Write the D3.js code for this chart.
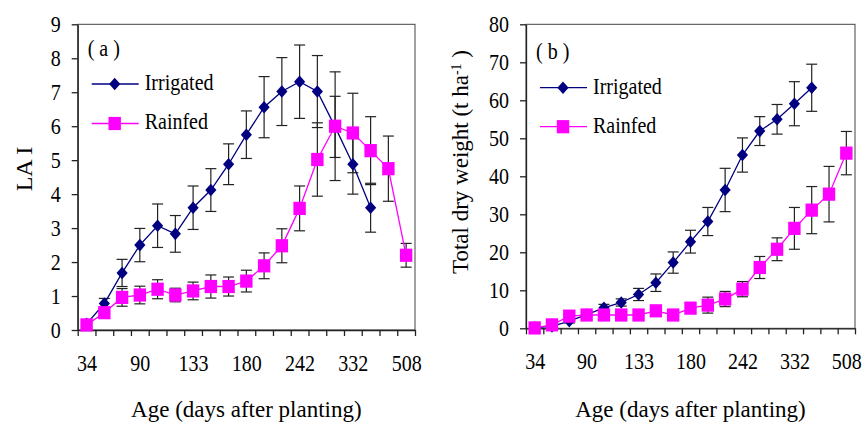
<!DOCTYPE html>
<html>
<head>
<meta charset="utf-8">
<script src="https://cdn.jsdelivr.net/npm/d3@7"></script>
<style>
  body { margin: 0; background: #fff; }
  svg text { font-family: "Liberation Serif", "Times New Roman", serif; fill: #000; }
  /* the source figure was stretched a bit vertically */
  .tall { transform-box: fill-box; transform-origin: center; transform: scaleY(1.15); }
</style>
</head>
<body>
<div id="chart"></div>
<script>
var svgWidth = 864;
var svgHeight = 423;

// 19 sampling dates (days after planting), only every third one is labelled
var ageLabels = ["34", "", "", "90", "", "", "133", "", "", "180", "", "", "242", "", "", "332", "", "", "508"];

var seriesNames = ["Irrigated", "Rainfed"];
var seriesColors = ["#000080", "#FF00FF"];

// (a) leaf area index
var laiIrrigated = [0.18, 0.78, 1.68, 2.5, 3.07, 2.83, 3.6, 4.12, 4.88, 5.75, 6.56, 7.02, 7.31, 7.02, 5.98, 4.88, 3.6, null, null];
var laiIrrigatedErr = [0.1, 0.15, 0.4, 0.49, 0.64, 0.54, 0.64, 0.63, 0.6, 0.7, 0.9, 1.0, 1.08, 1.06, 0.9, 0.88, 0.72, null, null];
var laiRainfed = [0.15, 0.51, 0.96, 1.03, 1.2, 1.03, 1.15, 1.28, 1.28, 1.44, 1.89, 2.48, 3.58, 5.02, 6.0, 5.8, 5.28, 4.75, 2.2];
var laiRainfedErr = [0.08, 0.1, 0.26, 0.26, 0.28, 0.2, 0.26, 0.34, 0.28, 0.32, 0.38, 0.5, 0.66, 1.08, 1.6, 1.17, 1.0, 0.96, 0.35];

// (b) total dry weight, t/ha
var dwIrrigated = [0.2, 0.5, 1.9, 3.6, 5.4, 6.8, 8.9, 12.0, 17.3, 22.8, 28.1, 36.4, 45.6, 51.9, 55.0, 59.1, 63.3, null, null];
var dwIrrigatedErr = [0.2, 0.3, 0.5, 0.7, 0.9, 0.95, 1.6, 2.3, 2.8, 3.0, 3.7, 5.7, 4.5, 3.8, 3.9, 5.8, 6.2, null, null];
var dwRainfed = [0.1, 0.9, 3.2, 3.5, 3.5, 3.5, 3.5, 4.6, 3.5, 5.3, 6.1, 7.7, 10.3, 16.0, 20.8, 26.3, 31.1, 35.3, 46.1];
var dwRainfedErr = [0.2, 0.4, 0.6, 0.6, 0.5, 0.5, 0.5, 0.8, 0.6, 1.2, 2.1, 2.0, 2.0, 2.9, 3.0, 5.5, 6.2, 7.3, 5.7];

var svg = d3.select("#chart")
  .append("svg")
  .attr("width", svgWidth)
  .attr("height", svgHeight);

svg.append("rect").attr("width", svgWidth).attr("height", svgHeight).attr("fill", "#fff");

function drawPanel(p) {
  var g = svg.append("g");

  var x = d3.scaleLinear().domain([0, ageLabels.length]).range([p.left, p.right]);
  var y = d3.scaleLinear().domain([0, p.yMax]).range([p.bottom, p.top]);

  // plot area frame
  g.append("rect")
    .attr("x", p.left)
    .attr("y", p.top)
    .attr("width", p.right - p.left)
    .attr("height", p.bottom - p.top)
    .attr("fill", "none")
    .attr("stroke", "#444")
    .attr("stroke-width", 1);

  // y axis
  var yAxis = g.append("g")
    .attr("transform", `translate(${p.left},0)`)
    .call(d3.axisLeft(y)
      .tickValues(d3.range(0, p.yMax + p.yStep / 2, p.yStep))
      .tickSize(6)
      .tickSizeOuter(0)
      .tickPadding(11));

  // x axis: tick marks between categories
  var xAxis = g.append("g")
    .attr("transform", `translate(0,${p.bottom})`)
    .call(d3.axisBottom(x)
      .tickValues(d3.range(ageLabels.length + 1))
      .tickFormat("")
      .tickSize(6)
      .tickSizeOuter(0));

  // x labels centred on every third category
  var labelIdx = d3.range(ageLabels.length).filter(i => ageLabels[i] !== "");
  var xLabels = g.append("g")
    .attr("transform", `translate(0,${p.bottom})`)
    .call(d3.axisBottom(x)
      .tickValues(labelIdx.map(i => i + 0.5))
      .tickFormat(d => ageLabels[d - 0.5])
      .tickSize(0)
      .tickPadding(26));
  xLabels.select(".domain").remove();

  [yAxis, xAxis, xLabels].forEach(a => {
    a.selectAll("path, line").attr("stroke", "#222").attr("stroke-width", 1.3);
    a.selectAll("text").attr("font-size", 20).classed("tall", true);
  });

  var line = d3.line()
    .defined(d => d != null)
    .x((d, i) => x(i + 0.5))
    .y(d => y(d));

  // error bars go underneath the markers
  p.series.forEach((s, k) => {
    var pts = s.values.map((v, i) => ({ i: i, v: v, e: s.err[i] })).filter(d => d.v != null);
    var eb = g.append("g").attr("stroke", "#222").attr("stroke-width", 1.2);
    pts.forEach(d => {
      var cx = x(d.i + 0.5);
      eb.append("line").attr("x1", cx).attr("x2", cx).attr("y1", y(d.v - d.e)).attr("y2", y(d.v + d.e));
      eb.append("line").attr("x1", cx - 5.5).attr("x2", cx + 5.5).attr("y1", y(d.v - d.e)).attr("y2", y(d.v - d.e));
      eb.append("line").attr("x1", cx - 5.5).attr("x2", cx + 5.5).attr("y1", y(d.v + d.e)).attr("y2", y(d.v + d.e));
    });
  });

  p.series.forEach((s, k) => {
    var pts = s.values.map((v, i) => ({ i: i, v: v })).filter(d => d.v != null);

    g.append("path")
      .datum(s.values)
      .attr("d", line)
      .attr("fill", "none")
      .attr("stroke", seriesColors[k])
      .attr("stroke-width", 1.3);

    drawMarkers(g, pts.map(d => [x(d.i + 0.5), y(d.v)]), k);
  });

  // panel label
  g.append("text")
    .attr("x", p.left + 10)
    .attr("y", p.tagY)
    .attr("font-size", 20)
    .classed("tall", true)
    .attr("xml:space", "preserve")
    .text(p.tag);

  // legend
  seriesNames.forEach((name, k) => {
    var ly = p.legendY[k];
    g.append("line")
      .attr("x1", p.left + 14).attr("x2", p.left + 61)
      .attr("y1", ly).attr("y2", ly)
      .attr("stroke", seriesColors[k])
      .attr("stroke-width", 1.3);
    drawMarkers(g, [[p.left + 37, ly]], k);
    g.append("text")
      .attr("x", p.left + 67)
      .attr("y", ly + 5)
      .attr("font-size", 20)
      .classed("tall", true)
      .text(name);
  });

  // axis titles
  g.append("text")
    .attr("x", (p.left + p.right) / 2)
    .attr("y", 417)
    .attr("text-anchor", "middle")
    .attr("font-size", 23)
    .text("Age (days after planting)");

  var yt = g.append("text")
    .attr("transform", `translate(${p.yTitleX},${p.yTitleY}) rotate(-90)`)
    .attr("text-anchor", "middle")
    .attr("font-size", p.yTitleSize);
  p.yTitle(yt);
}

function drawMarkers(g, coords, k) {
  if (k === 0) {
    g.selectAll(null)
      .data(coords)
      .enter()
      .append("path")
      .attr("transform", d => `translate(${d[0]},${d[1]})`)
      .attr("d", "M0,-6.3L5.6,0L0,6.3L-5.6,0Z")
      .attr("fill", seriesColors[0]);
  } else {
    g.selectAll(null)
      .data(coords)
      .enter()
      .append("rect")
      .attr("x", d => d[0] - 6.2)
      .attr("y", d => d[1] - 6.6)
      .attr("width", 12.4)
      .attr("height", 13.2)
      .attr("fill", seriesColors[1]);
  }
}

drawPanel({
  left: 77.7, right: 415, top: 24.3, bottom: 330,
  yMax: 9, yStep: 1,
  tag: "( a )", tagY: 55,
  legendY: [84, 123.5],
  series: [
    { values: laiIrrigated, err: laiIrrigatedErr },
    { values: laiRainfed, err: laiRainfedErr }
  ],
  yTitleX: 32, yTitleY: 169, yTitleSize: 24,
  yTitle: t => t.attr("xml:space", "preserve").text("LA I")
});

drawPanel({
  left: 526, right: 855, top: 24.3, bottom: 328.3,
  yMax: 80, yStep: 10,
  tag: "( b )", tagY: 58,
  legendY: [87.7, 126.7],
  series: [
    { values: dwIrrigated, err: dwIrrigatedErr },
    { values: dwRainfed, err: dwRainfedErr }
  ],
  yTitleX: 468, yTitleY: 162, yTitleSize: 23,
  yTitle: t => {
    t.append("tspan").text("Total dry weight (t ha");
    t.append("tspan").attr("baseline-shift", "super").attr("font-size", 14).text("-1");
    t.append("tspan").attr("xml:space", "preserve").text(" )");
  }
});
</script>
</body>
</html>
